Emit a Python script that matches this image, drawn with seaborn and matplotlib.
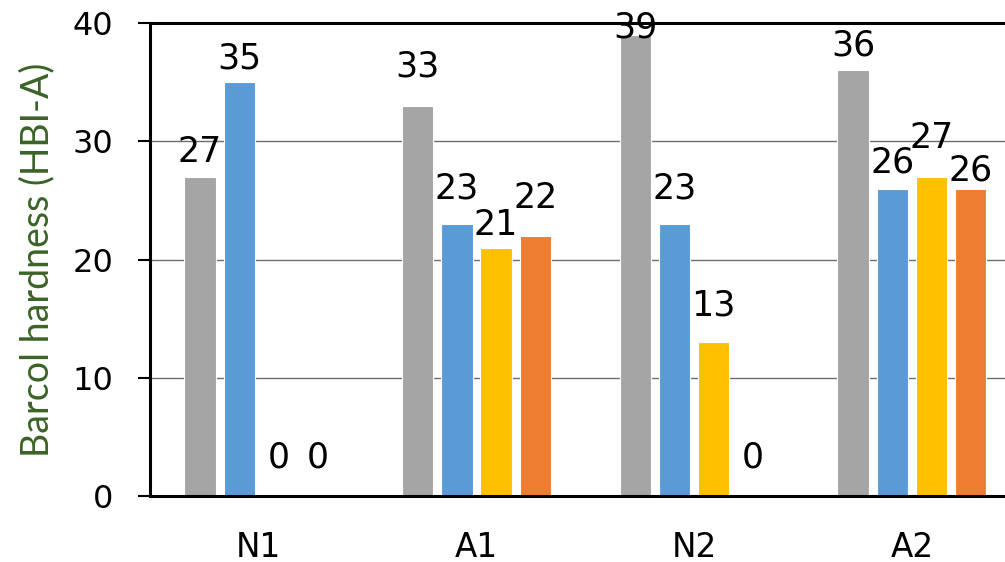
import matplotlib
matplotlib.use("Agg")
import matplotlib.pyplot as plt
import pandas as pd
import seaborn as sns

# chart data
categories = ["N1", "A1", "N2", "A2"]
series_names = ["Series 1", "Series 2", "Series 3", "Series 4"]
gray_vals = [27, 33, 39, 36]
blue_vals = [35, 23, 23, 26]
yellow_vals = [0, 21, 13, 27]
orange_vals = [0, 22, 0, 26]
y_ticks = [0, 10, 20, 30, 40]
y_label = "Barcol hardness (HBI-A)"

colors = ["#A5A5A5", "#5B9BD5", "#FFC000", "#ED7D31"]

# label nudges (pixels above bar top), one row per series, like the hand-placed Excel labels
label_gap_px = [
    [15, 29, 0, 15],
    [14, 26, 26, 16],
    [29, 13, 27, 29],
    [29, 28, 28, 8],
]

rows = []
for name, vals in zip(series_names, [gray_vals, blue_vals, yellow_vals, orange_vals]):
    for cat, v in zip(categories, vals):
        rows.append({"Sample": cat, "Series": name, "Hardness": v})
df = pd.DataFrame(rows)

sns.set_style("white")
plt.rcParams["font.family"] = ["DejaVu Sans"]
plt.rcParams["text.color"] = "black"
plt.rcParams["xtick.color"] = "black"
plt.rcParams["ytick.color"] = "black"

fig = plt.figure(figsize=(10.05, 5.62), dpi=100)
ax = fig.add_axes([150 / 1005, 66 / 562, 855 / 1005, 473 / 562])

sns.barplot(data=df, x="Sample", y="Hardness", hue="Series", palette=colors,
            order=categories, hue_order=series_names, width=0.72, gap=0.2,
            saturation=1, errorbar=None, legend=False, edgecolor="white",
            linewidth=0.8, ax=ax, zorder=2)

ax.set_xlim(-0.5, 3.428)
ax.set_ylim(0, 40)
ax.set_yticks(y_ticks)
ax.set_yticklabels([str(t) for t in y_ticks], fontsize=23)
ax.set_xticks(range(len(categories)))
ax.set_xticklabels(categories, fontsize=23.5)
ax.set_xticks([-0.5, 0.5, 1.5, 2.5], minor=True)

ax.tick_params(axis="x", which="major", length=0, pad=25, labelcolor="black")
ax.tick_params(axis="x", which="minor", direction="inout", length=18, width=1.5, color="black")
ax.tick_params(axis="y", which="major", direction="out", length=8.6, width=1.5,
               color="black", pad=18, left=True, labelcolor="black")

ax.yaxis.grid(True, color="#6E6E6E", linewidth=1.0, zorder=0)
ax.set_axisbelow(True)

for side in ["left", "bottom", "top"]:
    ax.spines[side].set_visible(True)
    ax.spines[side].set_color("black")
    ax.spines[side].set_linewidth(2.2)
ax.spines["right"].set_visible(False)

ax.set_xlabel("")
ax.set_ylabel(y_label, fontsize=27, color="#3B6327", family=["Lato", "DejaVu Sans"], labelpad=12)

# value labels on top of every bar
for i, cont in enumerate(ax.containers):
    for j, bar in enumerate(cont):
        h = bar.get_height()
        x = bar.get_x() + bar.get_width() / 2
        gap = label_gap_px[i][j]
        if h >= 39:
            gap = -3
        ax.annotate(f"{h:.0f}", (x, h), xytext=(0, gap * 0.72), textcoords="offset points",
                    ha="center", va="baseline", fontsize=25, color="black", zorder=5,
                    annotation_clip=False)

fig.savefig("out.png", dpi=100)
